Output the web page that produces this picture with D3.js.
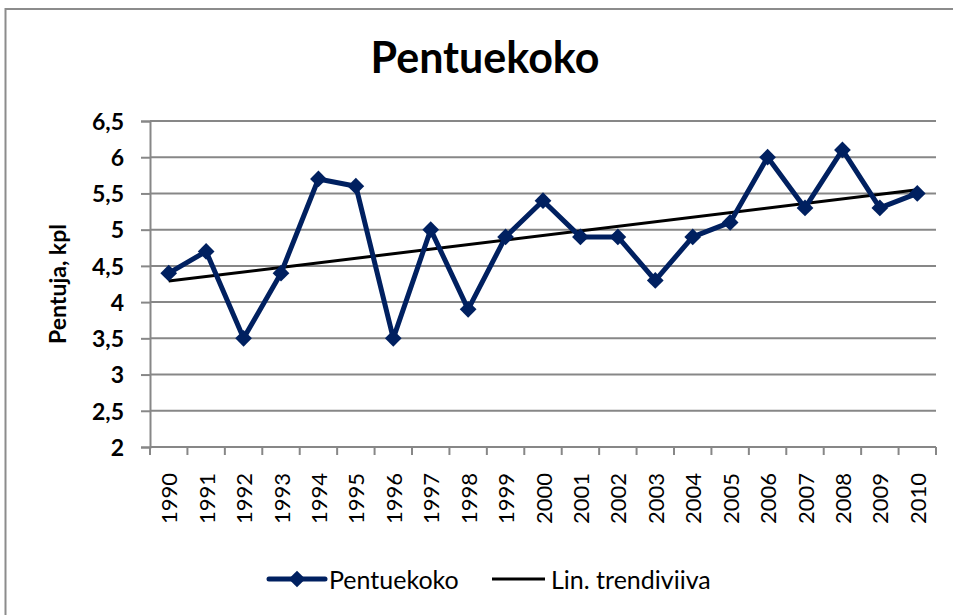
<!DOCTYPE html>
<html>
<head>
<meta charset="utf-8">
<script src="https://cdn.jsdelivr.net/npm/d3@7"></script>
<style>
  html, body { margin: 0; padding: 0; background: #fff; }
  svg { display: block; font-family: Lato, "Open Sans", sans-serif; }
</style>
</head>
<body>
<div id="chart"></div>
<script>
// ---- Data ----
const years = ['1990', '1991', '1992', '1993', '1994', '1995', '1996', '1997', '1998', '1999', '2000',
  '2001', '2002', '2003', '2004', '2005', '2006', '2007', '2008', '2009', '2010'];
const litterSize = [4.4, 4.7, 3.5, 4.4, 5.7, 5.6, 3.5, 5.0, 3.9, 4.9, 5.4,
  4.9, 4.9, 4.3, 4.9, 5.1, 6.0, 5.3, 6.1, 5.3, 5.5];
const trendYears = ['1990', '2010'];
const trendValues = [4.29, 5.55];
const yTicks = [2, 2.5, 3, 3.5, 4, 4.5, 5, 5.5, 6, 6.5];

const W = 953, H = 615;
const plot = { left: 150, right: 936, top: 121, bottom: 447 };
const navy = '#002060';
const gridGray = '#878787';

const svg = d3.select('#chart').append('svg').attr('width', W).attr('height', H);

// chart area border (runs off the right / bottom edge)
svg.append('rect')
  .attr('x', 5.5).attr('y', 9)
  .attr('width', 970).attr('height', 640)
  .attr('fill', 'none').attr('stroke', '#8c8c8c').attr('stroke-width', 2);

// ---- Scales ----
const x = d3.scaleBand().domain(years).range([plot.left, plot.right]).padding(0);
const cx = d => x(d) + x.bandwidth() / 2;
const y = d3.scaleLinear().domain([2, 6.5]).range([plot.bottom, plot.top]);
const fmt = d => String(d).replace('.', ',');

// ---- Grid ----
svg.append('g')
  .selectAll('line').data(yTicks.slice(1)).join('line')
  .attr('x1', plot.left).attr('x2', plot.right)
  .attr('y1', d => y(d)).attr('y2', d => y(d))
  .attr('stroke', gridGray).attr('stroke-width', 2);

// ---- Y axis ----
const yAxis = svg.append('g')
  .attr('transform', `translate(${plot.left},0)`)
  .call(d3.axisLeft(y).tickValues(yTicks).tickSize(9).tickPadding(17).tickFormat(fmt));
yAxis.select('.domain').attr('stroke', gridGray).attr('stroke-width', 2);
yAxis.selectAll('.tick line').attr('stroke', gridGray).attr('stroke-width', 2);
yAxis.selectAll('.tick text')
  .attr('font-family', 'Lato, sans-serif')
  .attr('font-size', '23px').attr('font-weight', 700).attr('fill', '#000')
  .attr('dy', '0.36em');

// ---- X axis ----
const xAxis = svg.append('g')
  .attr('transform', `translate(0,${plot.bottom})`)
  .call(d3.axisBottom(x).tickSize(0).tickPadding(0));
xAxis.select('.domain').remove();
xAxis.selectAll('.tick text')
  .attr('font-family', 'Lato, sans-serif')
  .attr('font-size', '22px').attr('fill', '#000')
  .attr('text-anchor', 'end')
  .attr('dy', null)
  .attr('dominant-baseline', 'central')
  .attr('transform', 'translate(0,26) rotate(-90)');

svg.append('line')
  .attr('x1', plot.left).attr('x2', plot.right)
  .attr('y1', plot.bottom).attr('y2', plot.bottom)
  .attr('stroke', gridGray).attr('stroke-width', 2);

// boundary ticks between categories
const edges = years.map(d => x(d)).concat([plot.right]);
svg.append('g')
  .selectAll('line').data(edges).join('line')
  .attr('x1', d => d).attr('x2', d => d)
  .attr('y1', plot.bottom).attr('y2', plot.bottom + 8)
  .attr('stroke', gridGray).attr('stroke-width', 2);

// ---- Titles ----
svg.append('text')
  .attr('x', 485).attr('y', 73)
  .attr('text-anchor', 'middle')
  .attr('font-size', '43px').attr('font-weight', 700)
  .text('Pentuekoko');

svg.append('text')
  .attr('transform', `translate(57,${(plot.top + plot.bottom) / 2}) rotate(-90)`)
  .attr('text-anchor', 'middle')
  .attr('dominant-baseline', 'central')
  .attr('font-size', '23px').attr('font-weight', 700)
  .text('Pentuja, kpl');

// ---- Trend line ----
svg.append('path')
  .datum(trendYears.map((d, i) => [d, trendValues[i]]))
  .attr('fill', 'none').attr('stroke', '#000').attr('stroke-width', 3)
  .attr('d', d3.line().x(d => cx(d[0])).y(d => y(d[1])));

// ---- Series ----
const pts = years.map((d, i) => [d, litterSize[i]]);
svg.append('path')
  .datum(pts)
  .attr('fill', 'none').attr('stroke', navy).attr('stroke-width', 5)
  .attr('stroke-linejoin', 'round')
  .attr('d', d3.line().x(d => cx(d[0])).y(d => y(d[1])));

const marker = d3.symbol().type(d3.symbolSquare).size(140);
svg.append('g')
  .selectAll('path').data(pts).join('path')
  .attr('transform', d => `translate(${cx(d[0])},${y(d[1])}) rotate(45)`)
  .attr('d', marker)
  .attr('fill', navy);

// ---- Legend ----
const legY = 579;
const leg = svg.append('g');
leg.append('line')
  .attr('x1', 269).attr('x2', 325).attr('y1', legY).attr('y2', legY)
  .attr('stroke', navy).attr('stroke-width', 5).attr('stroke-linecap', 'round');
leg.append('path')
  .attr('transform', `translate(297,${legY}) rotate(45)`)
  .attr('d', marker)
  .attr('fill', navy);
leg.append('text')
  .attr('x', 329).attr('y', legY)
  .attr('dominant-baseline', 'central')
  .attr('font-size', '25px')
  .text('Pentuekoko');

leg.append('line')
  .attr('x1', 492).attr('x2', 545).attr('y1', legY).attr('y2', legY)
  .attr('stroke', '#000').attr('stroke-width', 3);
leg.append('text')
  .attr('x', 551).attr('y', legY)
  .attr('dominant-baseline', 'central')
  .attr('font-size', '25px')
  .text('Lin. trendiviiva');
</script>
</body>
</html>
